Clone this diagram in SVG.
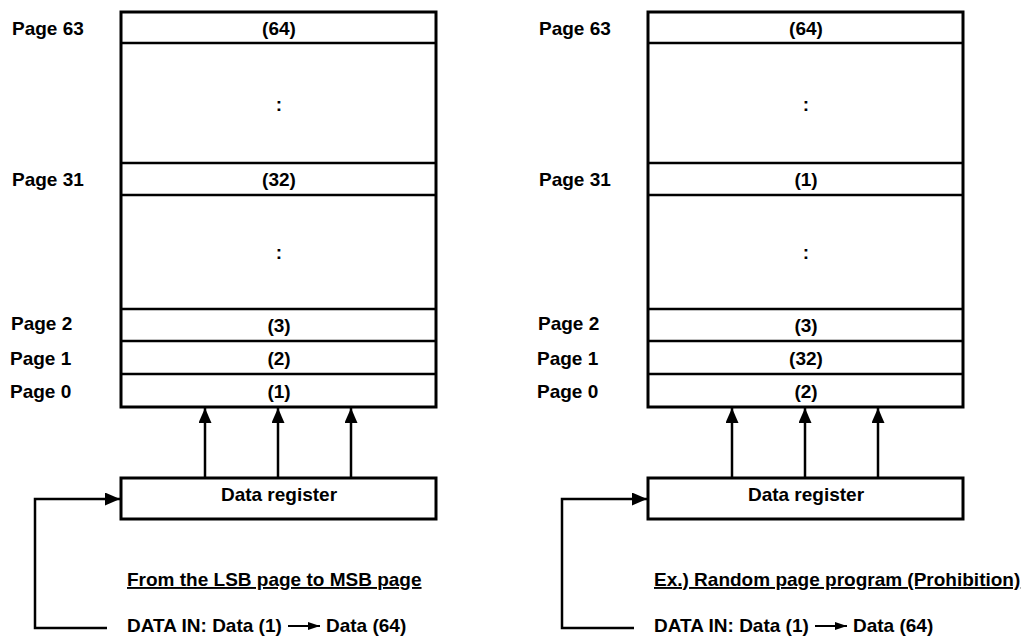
<svg xmlns="http://www.w3.org/2000/svg" width="1029" height="643" viewBox="0 0 1029 643">
<defs>
<style>
.t{font-family:"Liberation Sans",Arial,sans-serif;font-weight:bold;font-size:19px;fill:#000}
.c{text-anchor:middle}
.blk{fill:#fff;stroke:#000;stroke-width:3}
.row{stroke:#000;stroke-width:2.5}
.ln{fill:none;stroke:#000;stroke-width:2.5}
</style>
<marker id="ah" viewBox="0 0 15 13" refX="15" refY="6.5" markerWidth="15" markerHeight="13" markerUnits="userSpaceOnUse" orient="auto">
<path d="M0,0 L15,6.5 L0,13 Z" fill="#000"/>
</marker>
<marker id="ahs" viewBox="0 0 12 8" refX="12" refY="4" markerWidth="12" markerHeight="8" markerUnits="userSpaceOnUse" orient="auto">
<path d="M0,0 L12,4 L0,8 Z" fill="#000"/>
</marker>
</defs>
<rect width="1029" height="643" fill="#fff"/>

<!-- LEFT -->
<g id="memL">
<rect class="blk" x="121" y="12" width="315" height="395"/>
<line class="row" x1="121" y1="43" x2="436" y2="43"/>
<line class="row" x1="121" y1="163" x2="436" y2="163"/>
<line class="row" x1="121" y1="195" x2="436" y2="195"/>
<line class="row" x1="121" y1="309" x2="436" y2="309"/>
<line class="row" x1="121" y1="341" x2="436" y2="341"/>
<line class="row" x1="121" y1="374" x2="436" y2="374"/>
<text class="t c" x="279" y="35">(64)</text>
<text class="t c" x="279" y="111">:</text>
<text class="t c" x="279" y="186">(32)</text>
<text class="t c" x="279" y="259">:</text>
<text class="t c" x="279" y="332">(3)</text>
<text class="t c" x="279" y="365">(2)</text>
<text class="t c" x="279" y="398">(1)</text>
</g>
<g id="labelsL">
<text class="t" x="12" y="35">Page 63</text>
<text class="t" x="12" y="186">Page 31</text>
<text class="t" x="11" y="330">Page 2</text>
<text class="t" x="10" y="365">Page 1</text>
<text class="t" x="10" y="398">Page 0</text>
</g>
<g id="regL">
<rect class="blk" x="121" y="478" width="315" height="41"/>
<text class="t c" x="279" y="501">Data register</text>
</g>
<g id="notesL">
<text class="t" x="127" y="586" text-decoration="underline">From the LSB page to MSB page</text>
<text class="t" x="127" y="632">DATA IN: Data (1)</text>
<text class="t" x="326" y="632">Data (64)</text>
</g>

<!-- RIGHT -->
<g id="memR">
<rect class="blk" x="648" y="12" width="315" height="395"/>
<line class="row" x1="648" y1="43" x2="963" y2="43"/>
<line class="row" x1="648" y1="163" x2="963" y2="163"/>
<line class="row" x1="648" y1="195" x2="963" y2="195"/>
<line class="row" x1="648" y1="309" x2="963" y2="309"/>
<line class="row" x1="648" y1="341" x2="963" y2="341"/>
<line class="row" x1="648" y1="374" x2="963" y2="374"/>
<text class="t c" x="806" y="35">(64)</text>
<text class="t c" x="806" y="111">:</text>
<text class="t c" x="806" y="186">(1)</text>
<text class="t c" x="806" y="259">:</text>
<text class="t c" x="806" y="332">(3)</text>
<text class="t c" x="806" y="365">(32)</text>
<text class="t c" x="806" y="398">(2)</text>
</g>
<g id="labelsR">
<text class="t" x="539" y="35">Page 63</text>
<text class="t" x="539" y="186">Page 31</text>
<text class="t" x="538" y="330">Page 2</text>
<text class="t" x="537" y="365">Page 1</text>
<text class="t" x="537" y="398">Page 0</text>
</g>
<g id="regR">
<rect class="blk" x="648" y="478" width="315" height="41"/>
<text class="t c" x="806" y="501">Data register</text>
</g>
<g id="notesR">
<text class="t" x="654" y="586" text-decoration="underline">Ex.) Random page program (Prohibition)</text>
<text class="t" x="654" y="632">DATA IN: Data (1)</text>
<text class="t" x="853" y="632">Data (64)</text>
</g>

<g id="connectors">
<line class="ln" x1="205" y1="478" x2="205" y2="408" marker-end="url(#ah)"/>
<line class="ln" x1="278" y1="478" x2="278" y2="408" marker-end="url(#ah)"/>
<line class="ln" x1="351" y1="478" x2="351" y2="408" marker-end="url(#ah)"/>
<polyline class="ln" points="107,628 35,628 35,499 120,499" marker-end="url(#ah)"/>
<line x1="288" y1="626" x2="320" y2="626" stroke="#000" stroke-width="2" marker-end="url(#ahs)"/>

<line class="ln" x1="732" y1="478" x2="732" y2="408" marker-end="url(#ah)"/>
<line class="ln" x1="805" y1="478" x2="805" y2="408" marker-end="url(#ah)"/>
<line class="ln" x1="878" y1="478" x2="878" y2="408" marker-end="url(#ah)"/>
<polyline class="ln" points="634,628 562,628 562,499 647,499" marker-end="url(#ah)"/>
<line x1="815" y1="626" x2="847" y2="626" stroke="#000" stroke-width="2" marker-end="url(#ahs)"/>
</g>
</svg>
